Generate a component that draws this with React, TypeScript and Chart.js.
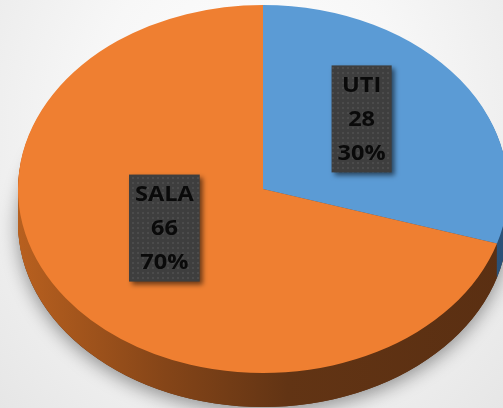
import React, { useEffect, useRef } from "react";
import { Chart, registerables } from "chart.js";

Chart.register(...registerables);

// ---- data ----
const categories = ["UTI", "SALA"];
const values = [28, 66];
const topColors = ["#5b9bd5", "#ef7f31"];
const sideStops: [number, string][][] = [
  [[0, "#3a6c9c"], [0.5, "#2e5a85"], [1, "#2a5178"]],
  [[0, "#b8601f"], [0.3, "#854518"], [0.55, "#623414"], [1, "#5a2f12"]],
];

// ---- layout (3D ellipse projection) ----
const E = { cx: 263, cy: 189, rx: 245, ry: 184, depth: 34 };
const LABEL = { frac: 0.5, lift: 15.5, lineH: 34, boxH: 107, padX: 6, font: "700 21px 'Open Sans', 'DejaVu Sans', sans-serif", stretch: 1.12 };

function makePattern(ctx: CanvasRenderingContext2D) {
  const c = document.createElement("canvas");
  c.width = 5;
  c.height = 5;
  const p = c.getContext("2d")!;
  p.fillStyle = "#3e3e3e";
  p.fillRect(0, 0, 5, 5);
  p.fillStyle = "#4b4b4b";
  p.fillRect(2, 2, 2, 2);
  return ctx.createPattern(c, "repeat") || "#3e3e3e";
}

const pie3d = {
  id: "pie3d",
  beforeDatasetsDraw(chart: any) {
    const ctx: CanvasRenderingContext2D = chart.ctx;
    const arcs = chart.getDatasetMeta(0).data as any[];
    if (!arcs.length) return;
    const cx0 = arcs[0].x, cy0 = arcs[0].y, r0 = arcs[0].outerRadius;
    const apply = (off: number) => {
      ctx.translate(E.cx, E.cy + off);
      ctx.scale(E.rx / r0, E.ry / r0);
      ctx.translate(-cx0, -cy0);
    };
    // soft shadow under the pie
    ctx.save();
    apply(E.depth);
    ctx.shadowColor = "rgba(0,0,0,0.4)";
    ctx.shadowBlur = 18;
    ctx.shadowOffsetY = 5;
    ctx.beginPath();
    ctx.arc(cx0, cy0, r0, 0, Math.PI * 2);
    ctx.fillStyle = "#5a2f12";
    ctx.fill();
    ctx.restore();
    // extruded side
    for (let i = E.depth; i >= 1; i--) {
      arcs.forEach((arc, idx) => {
        ctx.save();
        apply(i);
        const g = ctx.createLinearGradient(cx0 - r0, 0, cx0 + r0, 0);
        sideStops[idx].forEach(([o, c]) => g.addColorStop(o, c));
        ctx.fillStyle = g;
        ctx.beginPath();
        ctx.moveTo(cx0, cy0);
        ctx.arc(cx0, cy0, r0, arc.startAngle, arc.endAngle);
        ctx.closePath();
        ctx.fill();
        ctx.restore();
      });
    }
    // top face drawn by Chart.js under this transform
    ctx.save();
    apply(0);
  },
  afterDatasetsDraw(chart: any) {
    const arcs = chart.getDatasetMeta(0).data as any[];
    if (!arcs.length) return;
    chart.ctx.restore();
  },
  afterDraw(chart: any) {
    const ctx: CanvasRenderingContext2D = chart.ctx;
    const arcs = chart.getDatasetMeta(0).data as any[];
    if (!arcs.length) return;
    const total = values.reduce((a, b) => a + b, 0);
    const pattern = makePattern(ctx);
    arcs.forEach((arc, i) => {
      const mid = (arc.startAngle + arc.endAngle) / 2;
      const sx = E.cx + Math.cos(mid) * E.rx * LABEL.frac;
      const sy = E.cy + Math.sin(mid) * E.ry * LABEL.frac - LABEL.lift;
      const lines = [categories[i], String(values[i]), Math.round((values[i] / total) * 100) + "%"];
      ctx.save();
      ctx.font = LABEL.font;
      const w = Math.max(...lines.map((t) => ctx.measureText(t).width * LABEL.stretch)) + LABEL.padX * 2;
      const h = LABEL.boxH;
      ctx.shadowColor = "rgba(0,0,0,0.55)";
      ctx.shadowBlur = 5;
      ctx.shadowOffsetX = 3;
      ctx.shadowOffsetY = 3;
      ctx.fillStyle = pattern as any;
      ctx.fillRect(sx - w / 2, sy - h / 2, w, h);
      ctx.shadowColor = "transparent";
      ctx.fillStyle = "#0a0a0a";
      ctx.textAlign = "center";
      ctx.textBaseline = "middle";
      lines.forEach((t, j) => {
        ctx.save();
        ctx.translate(sx, sy + (j - 1) * LABEL.lineH + 1);
        ctx.scale(LABEL.stretch, 1);
        ctx.fillText(t, 0, 0);
        ctx.restore();
      });
      ctx.restore();
    });
  },
};

export default function App() {
  const ref = useRef<HTMLCanvasElement | null>(null);
  useEffect(() => {
    if (!ref.current) return;
    const chart = new Chart(ref.current, {
      type: "pie",
      data: {
        labels: categories,
        datasets: [
          {
            data: values,
            backgroundColor: topColors,
            borderWidth: 0,
            clip: false as any,
          } as any,
        ],
      },
      options: {
        responsive: false,
        maintainAspectRatio: false,
        animation: false,
        events: [],
        layout: { padding: 0 },
        plugins: { legend: { display: false }, tooltip: { enabled: false } },
      },
      plugins: [pie3d as any],
    });
    return () => chart.destroy();
  }, []);
  return (
    <div
      style={{
        position: "fixed",
        left: 0,
        top: 0,
        width: 503,
        height: 408,
        overflow: "hidden",
        background: "radial-gradient(ellipse at 50% 30%, #ffffff 0%, #f7f7f7 45%, #e6e6e6 100%)",
      }}
    >
      <canvas ref={ref} width={503} height={408} style={{ display: "block" }} />
    </div>
  );
}
